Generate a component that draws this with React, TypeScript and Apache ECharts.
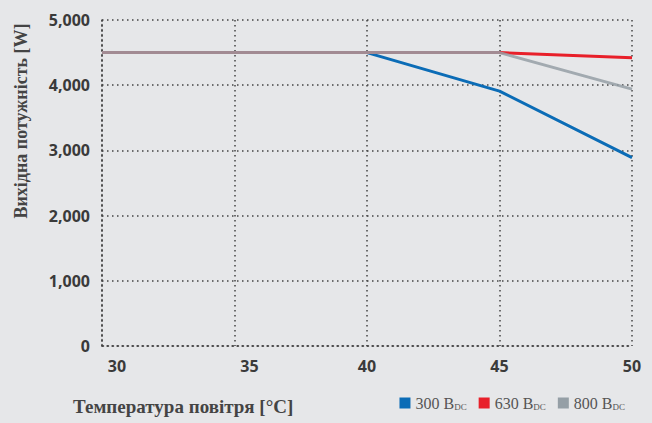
import React, { useEffect, useRef } from "react";
import * as echarts from "echarts";

const temps = [30, 35, 40, 45, 50];
const s300 = [4500, 4500, 4500, 3910, 2890];
const s630 = [4500, 4500, 4500, 4500, 4420];
const s800 = [4500, 4500, 4500, 4500, 3940];
const seriesNames = ["300", "630", "800"];
const colors = ["#0b6cb6", "#e8202a", "#959fa6"];

export default function App() {
  const ref = useRef<HTMLDivElement>(null);
  useEffect(() => {
    const chart = echarts.init(ref.current!, null, { renderer: "svg" });
    const pair = (arr: number[]) => temps.map((t, i) => [t, arr[i]]);
    const tickFont = { fontFamily: "Open Sans", fontWeight: 700, fontSize: 16, color: "#3a3a3a" };
    const dotted = { type: [1.5, 3.5] as any, color: "#444", width: 1.5 };
    chart.setOption({
      animation: false,
      backgroundColor: "#e6e7e9",
      grid: { left: 102, right: 20, top: 20, bottom: 77 },
      xAxis: {
        type: "value",
        min: 30,
        max: 50,
        interval: 5,
        axisLine: { show: true, lineStyle: dotted },
        axisTick: { show: false },
        splitLine: { show: true, lineStyle: dotted },
        axisLabel: {
          ...tickFont,
          margin: 12,
          formatter: (v: number) => (v < 40 ? `{s|${v}}` : `${v}`),
          rich: { s: { ...tickFont, padding: [0, 0, 0, 30] } },
        },
      },
      yAxis: {
        type: "value",
        min: 0,
        max: 5000,
        interval: 1000,
        axisLine: { show: true, lineStyle: dotted },
        axisTick: { show: false },
        splitLine: { show: true, lineStyle: dotted },
        axisLabel: {
          ...tickFont,
          margin: 12,
          formatter: (v: number) => (v === 0 ? "0" : v.toLocaleString("en-US")),
        },
      },
      legend: {
        right: 22,
        bottom: 7,
        itemWidth: 11,
        itemHeight: 11,
        itemGap: 12,
        icon: "rect",
        formatter: (n: string) => `{a|${n} B}{b|DC}`,
        textStyle: {
          rich: {
            a: { fontFamily: "Liberation Serif", fontSize: 16, color: "#555" },
            b: { fontFamily: "Liberation Serif", fontSize: 9, color: "#555", verticalAlign: "bottom", padding: [7, 0, 0, 0] },
          },
        },
        data: seriesNames,
      },
      graphic: [
        {
          type: "text",
          left: 73,
          top: 397,
          style: {
            text: "Температура повітря [°C]",
            font: "700 19px 'Liberation Serif'",
            fill: "#444",
          },
        },
        {
          type: "text",
          x: 21,
          y: 121,
          rotation: Math.PI / 2,
          style: {
            text: "Вихідна потужність [W]",
            font: "700 18px 'Liberation Serif'",
            fill: "#444",
            align: "center",
            verticalAlign: "middle",
          },
        },
      ],
      series: [
        { name: "300", type: "line", data: pair(s300), showSymbol: false, lineStyle: { width: 3, color: colors[0] }, itemStyle: { color: colors[0] }, z: 2 },
        { name: "630", type: "line", data: pair(s630), showSymbol: false, lineStyle: { width: 3, color: colors[1] }, itemStyle: { color: colors[1] }, z: 3 },
        { name: "800", type: "line", data: pair(s800), showSymbol: false, lineStyle: { width: 3, color: colors[2], opacity: 0.85 }, itemStyle: { color: colors[2] }, z: 4 },
      ],
    });
    return () => chart.dispose();
  }, []);
  return <div ref={ref} style={{ width: 652, height: 423, position: "absolute", left: 0, top: 0 }} />;
}
